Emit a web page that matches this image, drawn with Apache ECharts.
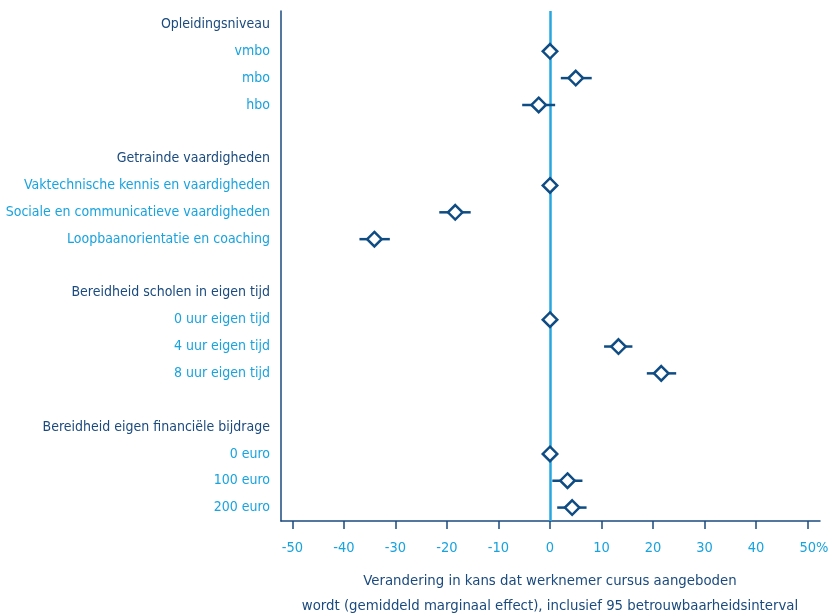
<!DOCTYPE html>
<html>
<head>
<meta charset="utf-8">
<script src="https://cdn.jsdelivr.net/npm/echarts@6/dist/echarts.min.js"></script>
<style>
html,body{margin:0;padding:0;background:#fff;}
#chart{width:834px;height:614px;}
</style>
</head>
<body>
<div id="chart"></div>
<script>
// ---- data ----
const categories = [
  'Opleidingsniveau', 'vmbo', 'mbo', 'hbo', '',
  'Getrainde vaardigheden', 'Vaktechnische kennis en vaardigheden', 'Sociale en communicatieve vaardigheden', 'Loopbaanorientatie en coaching', '',
  'Bereidheid scholen in eigen tijd', '0 uur eigen tijd', '4 uur eigen tijd', '8 uur eigen tijd', '',
  'Bereidheid eigen financiële bijdrage', '0 euro', '100 euro', '200 euro'
];
const headers = ['Opleidingsniveau', 'Getrainde vaardigheden', 'Bereidheid scholen in eigen tijd', 'Bereidheid eigen financiële bijdrage'];
const items     = ['vmbo', 'mbo', 'hbo', 'Vaktechnische kennis en vaardigheden', 'Sociale en communicatieve vaardigheden', 'Loopbaanorientatie en coaching', '0 uur eigen tijd', '4 uur eigen tijd', '8 uur eigen tijd', '0 euro', '100 euro', '200 euro'];
const estimates = [0, 5.0, -2.2, 0, -18.4, -34.1, 0, 13.3, 21.6, 0, 3.4, 4.3];
const lows      = [null, 2.1, -5.4, null, -21.5, -37.0, null, 10.5, 18.8, null, 0.45, 1.4];
const highs     = [null, 8.1, 1.0, null, -15.4, -31.1, null, 16.0, 24.5, null, 6.3, 7.1];
const xTicks = [-50, -40, -30, -20, -10, 0, 10, 20, 30, 40, 50];
const xName = 'Verandering in kans dat werknemer cursus aangeboden\nwordt (gemiddeld marginaal effect), inclusief 95 betrouwbaarheidsinterval';

// ---- style ----
const DARK = '#1a4a7e';
const LIGHT = '#18a3df';
const MARK = '#0f4c83';
const ZERO = '#27a7e0';
const FONT = "'Liberation Sans Narrow', 'DejaVu Sans Condensed', 'Roboto Condensed', 'Liberation Sans', sans-serif";

const chart = echarts.init(document.getElementById('chart'), null, {renderer: 'canvas'});

const catIndex = name => categories.indexOf(name);
const barData = [];
items.forEach((it, i) => {
  if (lows[i] != null && highs[i] != null) barData.push([catIndex(it), lows[i], highs[i]]);
});
const pointData = items.map((it, i) => [estimates[i], catIndex(it)]);

const option = {
  animation: false,
  backgroundColor: '#fff',
  textStyle: {fontFamily: FONT},
  grid: [
    {left: 292.5, right: 26.5, top: 11, bottom: 93, containLabel: false, outerBoundsMode: 'none'},
    {left: 281, right: 14, top: 11, bottom: 93, containLabel: false, outerBoundsMode: 'none'}
  ],
  xAxis: [
    {
      gridIndex: 0, type: 'value', min: xTicks[0], max: xTicks[xTicks.length - 1], interval: 10,
      axisLine: {show: false},
      axisTick: {show: true, length: 8, lineStyle: {color: DARK, width: 1.5}},
      splitLine: {show: false},
      axisLabel: {
        color: LIGHT, fontSize: 14.5, fontFamily: FONT, margin: 20,
        formatter: v => v === 50 ? '{p|50%}' : String(v),
        rich: {p: {padding: [0, 0, 0, 13], color: LIGHT, fontSize: 14.5, fontFamily: FONT}}
      },
      name: xName, nameLocation: 'middle', nameGap: 48,
      nameTextStyle: {color: DARK, fontSize: 14.8, fontFamily: FONT, lineHeight: 25, align: 'center'}
    },
    {
      gridIndex: 1, type: 'value', min: 0, max: 1,
      axisLine: {show: true, lineStyle: {color: DARK, width: 1.5}},
      axisTick: {show: false}, axisLabel: {show: false}, splitLine: {show: false}
    }
  ],
  yAxis: [
    {
      gridIndex: 0, type: 'category', inverse: true,
      data: categories.map(c => ({value: c, textStyle: {color: headers.includes(c) ? DARK : LIGHT}})),
      axisLine: {show: false}, axisTick: {show: false}, splitLine: {show: false},
      axisLabel: {fontSize: 14, fontFamily: FONT, margin: 22.5, interval: 0}
    },
    {
      gridIndex: 1, type: 'value', min: 0, max: 1,
      axisLine: {show: true, lineStyle: {color: DARK, width: 1.5}},
      axisTick: {show: false}, axisLabel: {show: false}, splitLine: {show: false}
    }
  ],
  series: [
    {
      type: 'custom', xAxisIndex: 0, yAxisIndex: 0, z: 2,
      data: barData,
      encode: {x: [1, 2], y: 0},
      renderItem: function (params, api) {
        const a = api.coord([api.value(1), api.value(0)]);
        const b = api.coord([api.value(2), api.value(0)]);
        return {type: 'line', shape: {x1: a[0], y1: a[1], x2: b[0], y2: b[1]},
                style: {stroke: MARK, lineWidth: 2.5}};
      },
      markLine: {
        silent: true, symbol: ['none', 'none'], label: {show: false},
        lineStyle: {color: ZERO, width: 2.5, type: 'solid'},
        z: 1,
        data: [{xAxis: 0}]
      }
    },
    {
      type: 'scatter', xAxisIndex: 0, yAxisIndex: 0, z: 5,
      symbol: 'diamond', symbolSize: 14.5,
      itemStyle: {color: '#ffffff', borderColor: MARK, borderWidth: 2.5, opacity: 1},
      data: pointData
    }
  ]
};
chart.setOption(option);
</script>
</body>
</html>
